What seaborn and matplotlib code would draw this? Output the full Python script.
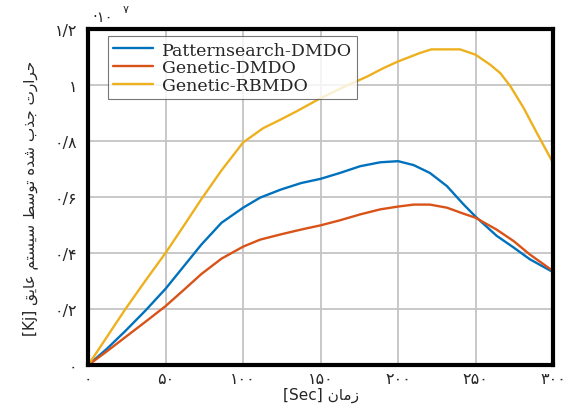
import numpy as np
import pandas as pd
import matplotlib
matplotlib.use("Agg")
import matplotlib.pyplot as plt
import seaborn as sns

# ---------------- data ----------------
series_names = ["Patternsearch-DMDO", "Genetic-DMDO", "Genetic-RBMDO"]
colors = ["#0072BD", "#D95319", "#EDB120"]

x_pattern = [0, 12, 24, 37, 50, 62, 73, 86, 100, 111, 124.5, 137.5, 150, 162.5, 175.5, 188.5, 200,
             210, 220.5, 231.5, 242, 250, 263.5, 274.5, 285, 300]
y_pattern = [0, 0.058, 0.122, 0.195, 0.273, 0.355, 0.43, 0.508, 0.562, 0.598, 0.627, 0.650, 0.665,
             0.686, 0.710, 0.724, 0.728, 0.714, 0.686, 0.639, 0.575, 0.530, 0.462, 0.420, 0.378, 0.332]

x_gen = [0, 12, 24, 37, 50, 62, 73, 86, 100, 111, 124.5, 137.5, 150, 162.5, 175.5, 188.5, 200, 210,
         220.5, 231.5, 242, 250, 263.5, 274.5, 285, 300]
y_gen = [0, 0.049, 0.100, 0.155, 0.211, 0.270, 0.325, 0.380, 0.423, 0.448, 0.467, 0.484, 0.499,
         0.517, 0.538, 0.556, 0.566, 0.573, 0.573, 0.562, 0.541, 0.526, 0.484, 0.443, 0.395, 0.336]

x_rb = [0, 12, 24, 37, 50, 62, 73, 86, 100, 113, 124, 134.5, 150, 165, 180, 190.5, 200, 207.5, 214,
        221.5, 230, 240, 250, 259.5, 266, 272.5, 281, 289.5, 300]
y_rb = [0, 0.10, 0.20, 0.302, 0.401, 0.50, 0.592, 0.695, 0.795, 0.846, 0.876, 0.906, 0.953, 0.993,
        1.030, 1.060, 1.084, 1.10, 1.114, 1.127, 1.127, 1.127, 1.108, 1.072, 1.042, 0.995, 0.918,
        0.829, 0.722]

x_ticks = [0, 50, 100, 150, 200, 250, 300]
x_ticklabels = ["۰", "۵۰", "۱۰۰", "۱۵۰", "۲۰۰", "۲۵۰", "۳۰۰"]
y_ticks = [0, 0.2, 0.4, 0.6, 0.8, 1.0, 1.2]
y_ticklabels = ["۰", "۰/۲", "۰/۴", "۰/۶", "۰/۸", "۱", "۱/۲"]

xlabel_text = "زمان [Sec]"
ylabel_text = "حرارت جذب شده توسط سیستم عایق [Kj]"
multiplier_text = "·۱۰"
multiplier_exp = "۷"

# ---------------- simple Arabic/Persian shaping ----------------
DUAL = {
    'ب': ('\uFE8F', '\uFE90', '\uFE91', '\uFE92'),
    'ت': ('\uFE95', '\uFE96', '\uFE97', '\uFE98'),
    'ج': ('\uFE9D', '\uFE9E', '\uFE9F', '\uFEA0'),
    'ح': ('\uFEA1', '\uFEA2', '\uFEA3', '\uFEA4'),
    'س': ('\uFEB1', '\uFEB2', '\uFEB3', '\uFEB4'),
    'ش': ('\uFEB5', '\uFEB6', '\uFEB7', '\uFEB8'),
    'ط': ('\uFEC1', '\uFEC2', '\uFEC3', '\uFEC4'),
    'ع': ('\uFEC9', '\uFECA', '\uFECB', '\uFECC'),
    'ق': ('\uFED5', '\uFED6', '\uFED7', '\uFED8'),
    'م': ('\uFEE1', '\uFEE2', '\uFEE3', '\uFEE4'),
    'ن': ('\uFEE5', '\uFEE6', '\uFEE7', '\uFEE8'),
    'ه': ('\uFEE9', '\uFEEA', '\uFEEB', '\uFEEC'),
    'ی': ('\uFBFC', '\uFBFD', '\uFEF3', '\uFEF4'),
}
RIGHT = {
    'ا': ('\uFE8D', '\uFE8E'),
    'د': ('\uFEA9', '\uFEAA'),
    'ذ': ('\uFEAB', '\uFEAC'),
    'ر': ('\uFEAD', '\uFEAE'),
    'ز': ('\uFEAF', '\uFEB0'),
    'و': ('\uFEED', '\uFEEE'),
}


def shape_word(w):
    out = []
    for i, c in enumerate(w):
        prev = w[i - 1] if i > 0 else None
        nxt = w[i + 1] if i < len(w) - 1 else None
        jp = prev in DUAL
        jn = c in DUAL and (nxt in DUAL or nxt in RIGHT)
        if c in DUAL:
            f = DUAL[c]
            out.append(f[3] if (jp and jn) else f[1] if jp else f[2] if jn else f[0])
        elif c in RIGHT:
            f = RIGHT[c]
            out.append(f[1] if jp else f[0])
        else:
            out.append(c)
    return "".join(out)


def visual(text):
    toks = []
    for t in text.split():
        if any(ch in DUAL or ch in RIGHT for ch in t):
            toks.append(shape_word(t)[::-1])
        else:
            toks.append(t)
    return " ".join(reversed(toks))


# ---------------- dataframe ----------------
df = pd.concat([
    pd.DataFrame({"t": x_pattern, "q": y_pattern, "series": series_names[0]}),
    pd.DataFrame({"t": x_gen, "q": y_gen, "series": series_names[1]}),
    pd.DataFrame({"t": x_rb, "q": y_rb, "series": series_names[2]}),
], ignore_index=True)

sns.set_theme(style="white")
plt.rcParams['font.family'] = ['DejaVu Sans']

fig = plt.figure(figsize=(5.69, 4.10), dpi=100)
ax = fig.add_axes([0.155, 0.107, 0.817, 0.82])

sns.lineplot(data=df, x="t", y="q", hue="series", hue_order=series_names,
             palette=colors, linewidth=1.7, ax=ax, sort=False, estimator=None)
for ln in ax.get_lines():
    ln.set_solid_joinstyle("round")

ax.set_xlim(0, 300)
ax.set_ylim(0, 1.2)
ax.set_xticks(x_ticks)
ax.set_xticklabels(x_ticklabels, fontsize=11.5)
ax.set_yticks(y_ticks)
ax.set_yticklabels(y_ticklabels, fontsize=11.5)
ax.tick_params(axis="y", length=0, pad=8)
ax.tick_params(axis="x", length=0, pad=4)
ax.grid(True, color="#c4c4c4", linewidth=1.3)
ax.set_axisbelow(True)
for s in ax.spines.values():
    s.set_visible(True)
    s.set_color("black")
    s.set_linewidth(3.0)

ax.set_xlabel(visual(xlabel_text), fontsize=11, labelpad=1)
ax.set_ylabel(visual(ylabel_text), fontsize=11, labelpad=12)

fig.text(0.163, 0.958, multiplier_text, fontsize=10.5, ha="left", va="center")
fig.text(0.216, 0.975, multiplier_exp, fontsize=8, ha="left", va="center")

leg = ax.legend(loc="upper left", bbox_to_anchor=(0.043, 0.978), frameon=True, fancybox=False,
                prop={"family": "DejaVu Serif", "size": 12.5}, labelspacing=0.05,
                handlelength=2.3, handletextpad=0.5, borderpad=0.3, borderaxespad=0.0)
leg.get_frame().set_edgecolor("#555555")
leg.get_frame().set_linewidth(0.8)
for l in leg.get_lines():
    l.set_linewidth(1.7)

fig.savefig("out.png", dpi=100)
